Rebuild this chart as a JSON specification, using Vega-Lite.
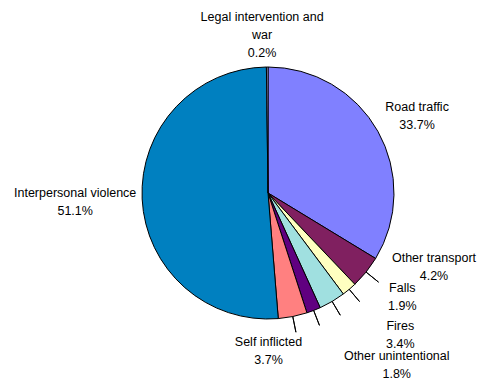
{
  "$schema": "https://vega.github.io/schema/vega-lite/v6.json",
  "width": 422,
  "height": 386,
  "autosize": {"type": "none"},
  "padding": {"left": 57, "top": 0, "right": 0, "bottom": 0},
  "background": "white",
  "config": {"view": {"stroke": null}, "text": {"font": "Liberation Sans", "fontSize": 12.5, "lineHeight": 18, "color": "black"}},
  "data": {
    "values": [
      {"name": "Road traffic", "pct": 33.7, "order": 1, "label": "Road traffic\n33.7%"},
      {"name": "Other transport", "pct": 4.2, "order": 2, "label": "Other transport\n4.2%"},
      {"name": "Falls", "pct": 1.9, "order": 3, "label": "Falls\n1.9%"},
      {"name": "Fires", "pct": 3.4, "order": 4, "label": "Fires\n3.4%"},
      {"name": "Other unintentional", "pct": 1.8, "order": 5, "label": "Other unintentional\n1.8%"},
      {"name": "Self inflicted", "pct": 3.7, "order": 6, "label": "Self inflicted\n3.7%"},
      {"name": "Interpersonal violence", "pct": 51.1, "order": 7, "label": "Interpersonal violence\n51.1%"},
      {"name": "Legal intervention and war", "pct": 0.2, "order": 8, "label": "Legal intervention and\nwar\n0.2%"}
    ]
  },
  "layer": [
    {
      "mark": {"type": "arc", "radius": 126, "stroke": "black", "strokeWidth": 1},
      "encoding": {
        "theta": {"field": "pct", "type": "quantitative", "stack": true, "scale": {"domain": [0, 100]}},
        "order": {"field": "order", "type": "quantitative"},
        "color": {
          "field": "name", "type": "nominal", "legend": null,
          "scale": {
            "domain": ["Road traffic", "Other transport", "Falls", "Fires", "Other unintentional", "Self inflicted", "Interpersonal violence", "Legal intervention and war"],
            "range": ["#8080FF", "#802060", "#FFFFC0", "#A0E0E0", "#600080", "#FF8080", "#0080C0", "#C0C0FF"]
          }
        }
      }
    },
    {
      "mark": {"type": "arc", "radius": 142, "radius2": 126, "padAngle": 0.6, "fill": null, "fillOpacity": 0, "strokeWidth": 1},
      "encoding": {
        "theta": {"field": "pct", "type": "quantitative", "stack": true},
        "order": {"field": "order", "type": "quantitative"},
        "stroke": {"condition": {"test": "indexof(['Other transport','Falls','Fires','Other unintentional','Self inflicted'], datum.name) >= 0", "value": "black"}, "value": null}
      }
    },
    {
      "mark": {"type": "text", "radius": 140, "dx": 27, "dy": -17, "lineBreak": "\n"},
      "encoding": {
        "theta": {"field": "pct", "type": "quantitative", "stack": true},
        "order": {"field": "order", "type": "quantitative"},
        "text": {"condition": {"test": "datum.name === 'Road traffic'", "field": "label", "type": "nominal"}, "value": ""}
      }
    },
    {
      "mark": {"type": "text", "radius": 140, "dx": 57, "dy": -23, "lineBreak": "\n"},
      "encoding": {
        "theta": {"field": "pct", "type": "quantitative", "stack": true},
        "order": {"field": "order", "type": "quantitative"},
        "text": {"condition": {"test": "datum.name === 'Other transport'", "field": "label", "type": "nominal"}, "value": ""}
      }
    },
    {
      "mark": {"type": "text", "radius": 140, "dx": 44, "dy": -12, "lineBreak": "\n"},
      "encoding": {
        "theta": {"field": "pct", "type": "quantitative", "stack": true},
        "order": {"field": "order", "type": "quantitative"},
        "text": {"condition": {"test": "datum.name === 'Falls'", "field": "label", "type": "nominal"}, "value": ""}
      }
    },
    {
      "mark": {"type": "text", "radius": 140, "dx": 61, "dy": 12, "lineBreak": "\n"},
      "encoding": {
        "theta": {"field": "pct", "type": "quantitative", "stack": true},
        "order": {"field": "order", "type": "quantitative"},
        "text": {"condition": {"test": "datum.name === 'Fires'", "field": "label", "type": "nominal"}, "value": ""}
      }
    },
    {
      "mark": {"type": "text", "radius": 140, "dx": 78, "dy": 33, "lineBreak": "\n"},
      "encoding": {
        "theta": {"field": "pct", "type": "quantitative", "stack": true},
        "order": {"field": "order", "type": "quantitative"},
        "text": {"condition": {"test": "datum.name === 'Other unintentional'", "field": "label", "type": "nominal"}, "value": ""}
      }
    },
    {
      "mark": {"type": "text", "radius": 140, "dx": -27, "dy": 12, "lineBreak": "\n"},
      "encoding": {
        "theta": {"field": "pct", "type": "quantitative", "stack": true},
        "order": {"field": "order", "type": "quantitative"},
        "text": {"condition": {"test": "datum.name === 'Self inflicted'", "field": "label", "type": "nominal"}, "value": ""}
      }
    },
    {
      "mark": {"type": "text", "radius": 140, "dx": -53, "dy": -7, "lineBreak": "\n"},
      "encoding": {
        "theta": {"field": "pct", "type": "quantitative", "stack": true},
        "order": {"field": "order", "type": "quantitative"},
        "text": {"condition": {"test": "datum.name === 'Interpersonal violence'", "field": "label", "type": "nominal"}, "value": ""}
      }
    },
    {
      "mark": {"type": "text", "radius": 140, "dx": -5, "dy": -36, "lineBreak": "\n"},
      "encoding": {
        "theta": {"field": "pct", "type": "quantitative", "stack": true},
        "order": {"field": "order", "type": "quantitative"},
        "text": {"condition": {"test": "datum.name === 'Legal intervention and war'", "field": "label", "type": "nominal"}, "value": ""}
      }
    }
  ]
}
